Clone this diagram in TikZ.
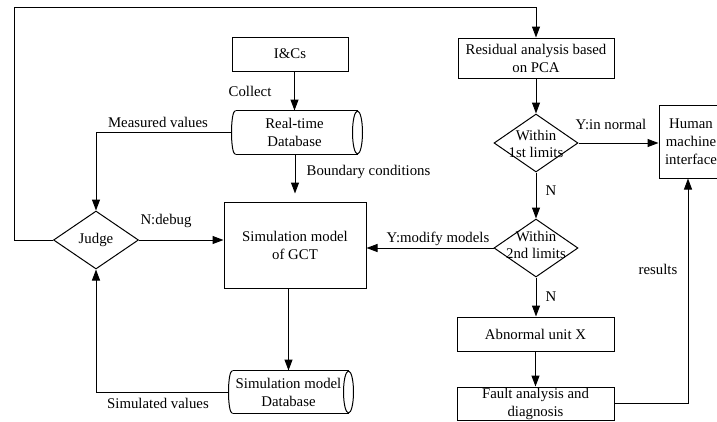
\documentclass[tikz,border=0pt]{standalone}
\usepackage{fontspec}
\setmainfont{Liberation Serif}
\usetikzlibrary{arrows.meta,shapes.geometric,calc}
\tikzset{
  box/.style={draw, rectangle, inner sep=0pt, align=center},
  dec/.style={draw, diamond, inner sep=0pt},
  dbnode/.style={rectangle, inner sep=0pt, align=center},
  lbl/.style={inner sep=0pt, align=center},
  conn/.style={-{Triangle[length=11pt,width=8pt]}},
}
\begin{document}
\begin{tikzpicture}[x=1pt,y=-1pt,line width=1pt,
  font=\fontsize{14.8}{18}\selectfont]
\useasboundingbox (0,0) rectangle (717,421);
\clip (0,0) rectangle (717,421);

% nodes
\node[box, minimum width=116, minimum height=34] (ics) at (290,54) {I\&Cs};
\node[dbnode, minimum width=125, minimum height=43] (rtdb) at (294.5,132.5) {Real-time\\Database};
\node[box, minimum width=142, minimum height=86] (sim) at (295,245) {Simulation model\\of GCT};
\node[dbnode, minimum width=119, minimum height=42] (simdb) at (288.5,392) {Simulation model\\Database};
\node[dec, minimum width=85, minimum height=58] (judge) at (96,240) {Judge};
\node[box, minimum width=156, minimum height=40] (res) at (536,58) {Residual analysis based\\on PCA};
\node[dec, minimum width=84, minimum height=58] (d1) at (536,143) {};
\node[lbl, font=\fontsize{14.8}{17}\selectfont] at (536,144) {Within\\1st limits};
\node[dec, minimum width=84, minimum height=58] (d2) at (536,248) {};
\node[lbl, font=\fontsize{14.8}{17}\selectfont] at (536,245) {Within\\2nd limits};
\node[box, minimum width=64, minimum height=73, align=center] (hmi) at (691,141.5) {Human\\machine\\interface};
\node[box, minimum width=157, minimum height=34] (abn) at (535.5,334) {Abnormal unit X};
\node[box, minimum width=157, minimum height=33] (fault) at (535.5,403.5) {Fault analysis and\\diagnosis};

% cylinders
\foreach \n/\ry in {rtdb/21.5, simdb/21} {
  \draw ([xshift=4pt]\n.north west) -- (\n.north east);
  \draw ([xshift=4pt]\n.south west) -- (\n.south east);
  \draw (\n.east) ellipse [x radius=5pt, y radius=\ry pt];
  \draw ([xshift=4pt]\n.north west) .. controls ([xshift=-1.33pt]\n.north west) and ([xshift=-1.33pt]\n.south west) .. ([xshift=4pt]\n.south west);
}

% loop coordinates
\coordinate (tl) at (14,7);
\coordinate (tr) at (536,7);
\coordinate (rc) at (688,403);

% connectors
\draw[conn] (rtdb.north |- ics.south) -- (rtdb.north);
\draw[conn, shorten >=8pt] (sim.north |- rtdb.south) -- (sim.north);
\draw[conn] (rtdb.west) -| (judge.north);
\draw[conn] (judge.east) -- (judge.east -| sim.west);
\draw[conn] (simdb.north |- sim.south) -- (simdb.north);
\draw[conn] (simdb.west) -| (judge.south);
\draw[conn] (judge.west) -- (judge.west -| tl) -- (tl) -- (tr) -- (res.north);
\draw[conn] (res.south) -- (d1.north);
\draw[conn] (d1.east) -- (d1.east -| hmi.west);
\draw[conn] (d1.south) -- (d2.north);
\draw[conn] (d2.west) -- (d2.west -| sim.east);
\draw[conn] (d2.south) -- (d2.south |- abn.north);
\draw[conn] (abn.south) -- (fault.north);
\draw[conn] (fault.east |- rc) -- (rc) -- (rc |- hmi.south);

% labels
\node[lbl] at (250,91) {Collect};
\node[lbl] at (158,122) {Measured values};
\node[lbl] at (368.5,172) {Boundary conditions};
\node[lbl] at (166,221) {N:debug};
\node[lbl] at (158,403) {Simulated values};
\node[lbl] at (611,124) {Y:in normal};
\node[lbl] at (551,191) {N};
\node[lbl] at (438,239) {Y:modify models};
\node[lbl] at (551,297) {N};
\node[lbl] at (658,269) {results};
\end{tikzpicture}
\end{document}
